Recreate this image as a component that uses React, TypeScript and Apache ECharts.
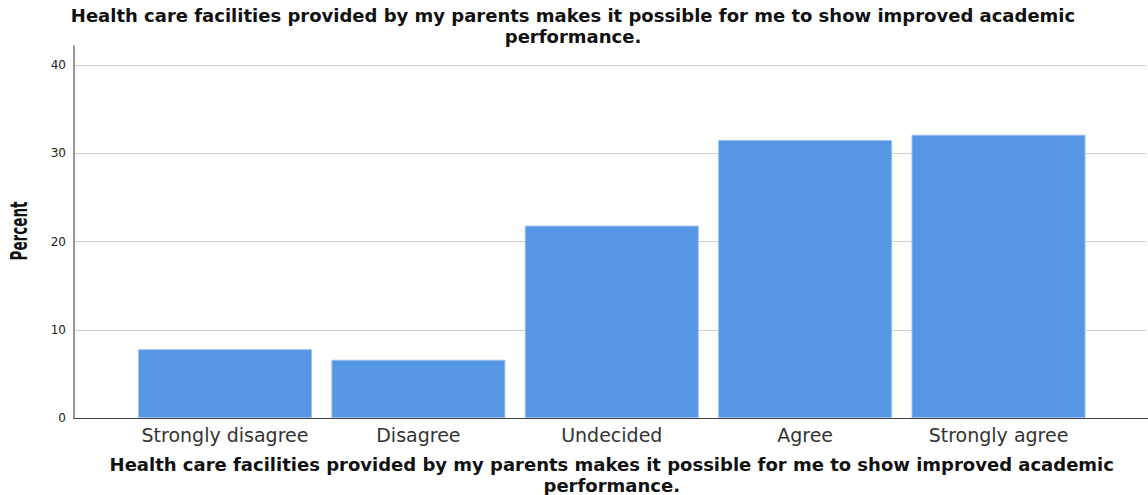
import React, { useEffect, useRef } from "react";
import * as echarts from "echarts";

const categories = ["Strongly disagree", "Disagree", "Undecided", "Agree", "Strongly agree"];
const percentValues = [7.8, 6.6, 21.8, 31.5, 32.1];
const yTicks = [0, 10, 20, 30, 40];
const titleText =
  "Health care facilities provided by my parents makes it possible for me to show improved academic\nperformance.";
const yAxisTitle = "Percent";

export default function App() {
  const ref = useRef<HTMLDivElement>(null);
  useEffect(() => {
    if (!ref.current) return;
    const chart = echarts.init(ref.current, null, { renderer: "svg" });
    const yMax = yTicks[yTicks.length - 1];
    chart.setOption({
      animation: false,
      backgroundColor: "#ffffff",
      title: {
        text: titleText,
        left: 573,
        textAlign: "center",
        top: 5,
        padding: 0,
        textStyle: {
          fontFamily: "DejaVu Sans",
          fontWeight: "bold",
          fontSize: 18,
          lineHeight: 21,
          color: "#111",
        },
      },
      grid: [
        { left: 74, right: 0, top: 46, bottom: 77, outerBoundsMode: "none", containLabel: false },
        { left: 74, right: 2, top: 65, bottom: 77, outerBoundsMode: "none", containLabel: false },
        { left: 128.3, right: 52.8, top: 65, bottom: 77, outerBoundsMode: "none", containLabel: false },
      ],
      xAxis: [
        {
          gridIndex: 0,
          type: "value",
          min: 0,
          max: 1,
          axisLine: { show: true, onZero: false, lineStyle: { color: "#444", width: 1 } },
          axisTick: { show: false },
          axisLabel: { show: false },
          splitLine: { show: false },
        },
        {
          gridIndex: 1,
          type: "value",
          min: 0,
          max: 1,
          show: false,
        },
        {
          gridIndex: 2,
          type: "category",
          data: categories,
          axisLine: { show: false },
          axisTick: { show: false },
          axisLabel: {
            interval: 0,
            fontFamily: "DejaVu Sans",
            fontSize: 19,
            color: "#333",
            margin: 7,
          },
          name: titleText,
          nameLocation: "middle",
          nameGap: 36,
          nameTextStyle: {
            fontFamily: "DejaVu Sans",
            fontWeight: "bold",
            fontSize: 18,
            lineHeight: 21,
            color: "#111",
          },
        },
      ],
      yAxis: [
        {
          gridIndex: 0,
          type: "value",
          min: 0,
          max: 42.15,
          axisLine: { show: true, lineStyle: { color: "#999", width: 2 } },
          axisTick: { show: false },
          axisLabel: { show: false },
          splitLine: { show: false },
        },
        {
          gridIndex: 1,
          type: "value",
          min: 0,
          max: yMax,
          interval: 10,
          axisLine: { show: false },
          axisTick: { show: false },
          axisLabel: {
            fontFamily: "DejaVu Sans",
            fontSize: 12,
            color: "#222",
            margin: 8,
          },
          splitLine: { show: true, lineStyle: { color: "#cfcfcf", width: 1 } },
        },
        {
          gridIndex: 2,
          type: "value",
          min: 0,
          max: yMax,
          interval: 10,
          show: false,
          splitLine: { show: false },
        },
      ],
      series: [
        {
          type: "bar",
          xAxisIndex: 2,
          yAxisIndex: 2,
          data: percentValues,
          barCategoryGap: "10%",
          itemStyle: { color: "#5596e5", borderColor: "#9cc1f0", borderWidth: 1 },
          z: 3,
        },
      ],
      graphic: [
        {
          type: "text",
          x: 19,
          y: 231,
          rotation: Math.PI / 2,
          scaleY: 1.5,
          style: {
            text: yAxisTitle,
            fontFamily: "Liberation Sans Narrow, DejaVu Sans Condensed, Liberation Sans",
            fontWeight: "bold",
            fontSize: 15,
            fill: "#111",
            textAlign: "center",
            textVerticalAlign: "middle",
          },
        },
      ],
    });
    return () => chart.dispose();
  }, []);
  return (
    <div
      ref={ref}
      style={{ position: "fixed", left: 0, top: 0, width: 1148, height: 495 }}
    />
  );
}
